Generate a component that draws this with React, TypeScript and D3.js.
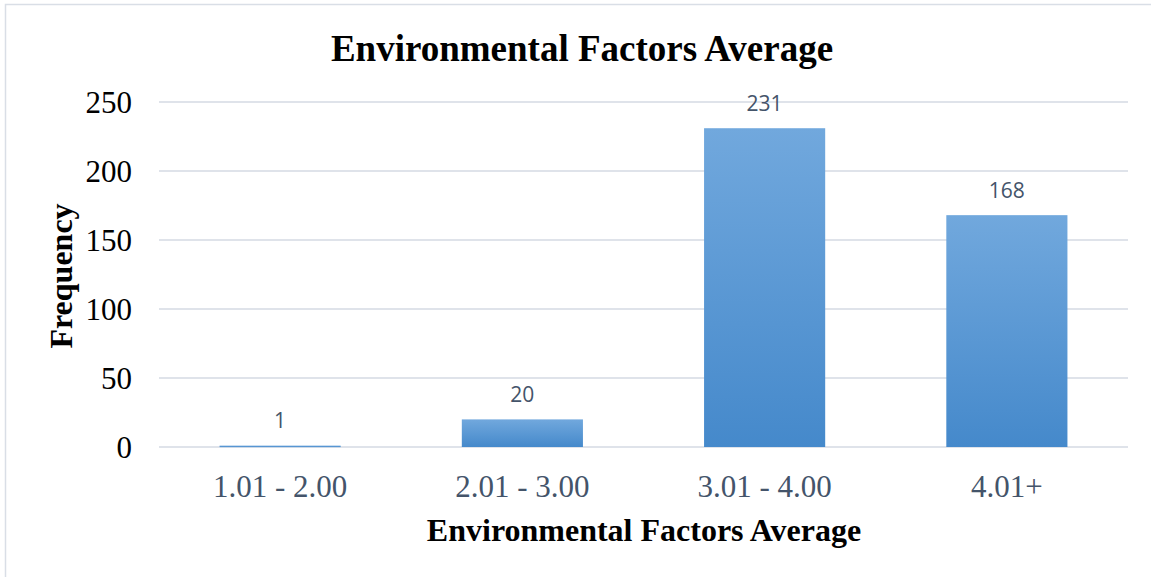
import React from "react";
import * as d3 from "d3";

// Frequency of environmental-factor averages per score band
const categories: string[] = ["1.01 - 2.00", "2.01 - 3.00", "3.01 - 4.00", "4.01+"];
const frequencies: number[] = [1, 20, 231, 168];
const yTicks: number[] = [0, 50, 100, 150, 200, 250];

const W = 1151;
const H = 577;
const plot = { left: 159, right: 1128, top: 102, bottom: 447 };

const serif = "'Liberation Serif', 'Times New Roman', serif";
const sans = "'Open Sans', 'Noto Sans', sans-serif";

export default function App() {
  const x = d3
    .scaleBand<string>()
    .domain(categories)
    .range([plot.left, plot.right])
    .paddingInner(0.5)
    .paddingOuter(0.25);
  const y = d3.scaleLinear().domain([0, 250]).range([plot.bottom, plot.top]);

  return (
    <svg
      width={W}
      height={H}
      style={{ position: "absolute", left: 0, top: 0, display: "block" }}
    >
      <defs>
        <linearGradient id="barFill" x1="0" y1="0" x2="0" y2="1">
          <stop offset="0%" stopColor="#71a8dd" />
          <stop offset="100%" stopColor="#4589cb" />
        </linearGradient>
      </defs>
      <rect x={0} y={0} width={W} height={H} fill="#ffffff" />
      <rect
        x={5.5}
        y={4.5}
        width={W + 20}
        height={H + 20}
        fill="none"
        stroke="#d9dee6"
        strokeWidth={1.5}
      />

      <text
        x={582}
        y={61}
        textAnchor="middle"
        fontFamily={serif}
        fontWeight="bold"
        fontSize={37}
        fill="#000"
      >
        Environmental Factors Average
      </text>

      {yTicks.map((t) => (
        <g key={t}>
          <line
            x1={plot.left}
            x2={plot.right}
            y1={y(t)}
            y2={y(t)}
            stroke="#dfe3ea"
            strokeWidth={2}
          />
          <text
            x={132}
            y={y(t) + 10.5}
            textAnchor="end"
            fontFamily={serif}
            fontSize={31}
            fill="#000"
          >
            {t}
          </text>
        </g>
      ))}

      {categories.map((c, i) => {
        const v = frequencies[i];
        const bx = x(c)!;
        const bw = x.bandwidth();
        return (
          <g key={c}>
            <rect
              x={bx}
              y={y(v)}
              width={bw}
              height={Math.max(y(0) - y(v), 1.5)}
              fill="url(#barFill)"
            />
            <text
              x={bx + bw / 2}
              y={y(v) - 17.5}
              textAnchor="middle"
              fontFamily={sans}
              fontSize={21}
              fill="#44546a"
            >
              {v}
            </text>
            <text
              x={bx + bw / 2}
              y={497}
              textAnchor="middle"
              fontFamily={serif}
              fontSize={31}
              fill="#44546a"
            >
              {c}
            </text>
          </g>
        );
      })}

      <text
        x={644}
        y={541}
        textAnchor="middle"
        fontFamily={serif}
        fontWeight="bold"
        fontSize={32}
        fill="#000"
      >
        Environmental Factors Average
      </text>
      <text
        transform={`translate(72, 276) rotate(-90)`}
        textAnchor="middle"
        fontFamily={serif}
        fontWeight="bold"
        fontSize={32}
        fill="#000"
      >
        Frequency
      </text>
    </svg>
  );
}
